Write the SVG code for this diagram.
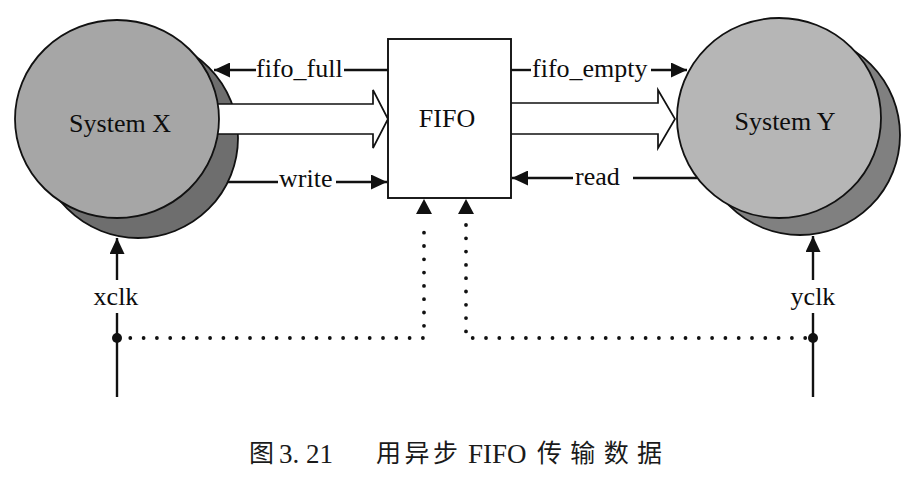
<svg xmlns="http://www.w3.org/2000/svg" width="905" height="486" viewBox="0 0 905 486">
<defs>
<style>
.ln{stroke:#111;stroke-width:2.4;fill:none}
.dot{stroke:#111;stroke-width:3.8;fill:none;stroke-linecap:round;stroke-dasharray:0 13.3}
.fat{fill:#fff;stroke:#111;stroke-width:1.7;stroke-linejoin:miter}
.circ{stroke:#111;stroke-width:1.8}
.t{font-family:"Liberation Serif","Times New Roman",serif;font-size:26px;fill:#0d0d0d}
.cap{font-family:"Noto Sans CJK SC","Noto Sans CJK JP",sans-serif;font-size:25px;fill:#1a1a1a}
.capl{font-family:"Liberation Serif",serif;font-size:27px;fill:#1a1a1a}
</style>
<marker id="ah" markerUnits="userSpaceOnUse" markerWidth="17" markerHeight="15" refX="16" refY="7.5" orient="auto">
<path d="M0,0 L16,7.5 L0,15 z" fill="#111"/>
</marker>
</defs>
<rect width="905" height="486" fill="#fff"/>

<g id="systemX">
<circle class="circ" cx="138" cy="138" r="100" fill="#6e6e6e"/>
</g>
<g id="systemY">
<circle class="circ" cx="800" cy="135" r="100" fill="#808080"/>
</g>

<g id="connectors">
<path class="fat" d="M195,104 H373 V90 L388,119 L373,148 V134 H195"/>
<path class="fat" d="M511,103 H658 V90 L675,119 L658,148 V134 H511"/>
</g>

<g id="systemX-front">
<ellipse class="circ" cx="117" cy="119" rx="102" ry="99" fill="#a6a6a6"/>
<text class="t" x="120" y="132" text-anchor="middle">System X</text>
</g>
<g id="systemY-front">
<ellipse class="circ" cx="779" cy="118" rx="102" ry="100" fill="#b6b6b6"/>
<text class="t" x="785" y="130" text-anchor="middle">System Y</text>
</g>

<g id="fifo">
<rect x="388" y="39" width="123" height="159" fill="#fff" stroke="#111" stroke-width="1.9"/>
<text class="t" x="447" y="127" text-anchor="middle">FIFO</text>
</g>

<g id="signals">
<path class="ln" d="M388,70 H344"/>
<path class="ln" d="M256,70 H214" marker-end="url(#ah)"/>
<text class="t" x="256" y="77">fifo_full</text>
<path class="ln" d="M228,182 H278"/>
<path class="ln" d="M336,182 H387" marker-end="url(#ah)"/>
<text class="t" x="279" y="187">write</text>
<path class="ln" d="M511,70 H531"/>
<path class="ln" d="M651,70 H687" marker-end="url(#ah)"/>
<text class="t" x="532" y="77">fifo_empty</text>
<path class="ln" d="M697,178 H633"/>
<path class="ln" d="M573,178 H512" marker-end="url(#ah)"/>
<text class="t" x="575" y="185">read</text>
</g>

<g id="clocks">
<path class="ln" d="M117,397 V313"/>
<path class="ln" d="M117,280 V238" marker-end="url(#ah)"/>
<text class="t" x="116" y="305" text-anchor="middle">xclk</text>
<circle cx="117" cy="338" r="5" fill="#111"/>
<path class="ln" d="M813,397 V313"/>
<path class="ln" d="M813,280 V236" marker-end="url(#ah)"/>
<text class="t" x="813" y="305" text-anchor="middle">yclk</text>
<circle cx="813" cy="338" r="5" fill="#111"/>
<path class="dot" d="M117,338 H424 V225"/>
<path class="dot" d="M466,225 V338 H813"/>
<path d="M424,199 L432,214 L416,214 z" fill="#111"/>
<path d="M466,199 L474,214 L458,214 z" fill="#111"/>
</g>

<g id="caption">
<text class="cap" x="249" y="462">图</text>
<text class="capl" x="279" y="463">3. 21</text>
<text class="cap" x="376" y="462" textLength="82" lengthAdjust="spacing">用异步</text>
<text class="capl" x="468" y="463">FIFO</text>
<text class="cap" x="537" y="462" textLength="125" lengthAdjust="spacing">传输数据</text>
</g>
</svg>
